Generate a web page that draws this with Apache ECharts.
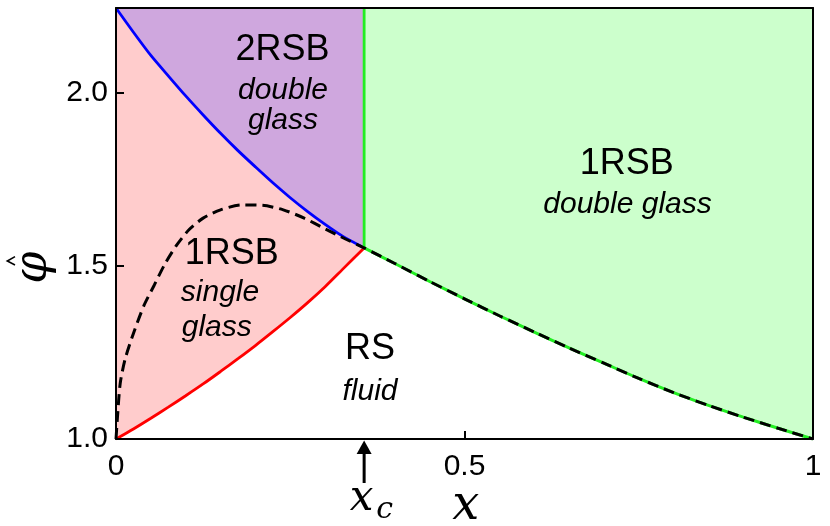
<!DOCTYPE html>
<html>
<head>
<meta charset="utf-8">
<script src="https://cdn.jsdelivr.net/npm/echarts@6/dist/echarts.min.js"></script>
<style>html,body{margin:0;padding:0;background:#fff}#c{width:830px;height:526px}</style>
</head>
<body>
<div id="c"></div>
<script>
// ---- axis ranges & ticks ----
const xMin = 0, xMax = 1, xInterval = 0.5;
const yMin = 1.0, yMax = 2.245, yInterval = 0.5;

// ---- special point (x_c, junction) ----
const xc = 0.356;
const yJunction = 1.552;

// ---- 2RSB / 1RSB-single boundary (blue) ----
const blueX = [0, 0.025, 0.05, 0.075, 0.10, 0.125, 0.15, 0.175, 0.20, 0.225, 0.25, 0.275, 0.30, 0.325, 0.356];
const blueY = [2.245, 2.175, 2.108, 2.049, 1.991, 1.936, 1.883, 1.833, 1.786, 1.740, 1.697, 1.657, 1.620, 1.586, 1.552];

// ---- RS / 1RSB-single boundary (red) ----
const redX = [0, 0.025, 0.05, 0.075, 0.10, 0.125, 0.15, 0.175, 0.20, 0.225, 0.25, 0.275, 0.30, 0.325, 0.356];
const redY = [1.0, 1.029, 1.06, 1.092, 1.125, 1.159, 1.195, 1.232, 1.27, 1.31, 1.351, 1.394, 1.44, 1.49, 1.552];

// ---- dashed curve, left branch ----
const dashLX = [0, 0.002, 0.006, 0.013, 0.025, 0.04, 0.055, 0.07, 0.087, 0.105, 0.125, 0.15, 0.18, 0.21, 0.24, 0.27, 0.30, 0.33, 0.356];
const dashLY = [1.0, 1.06, 1.16, 1.23, 1.305, 1.385, 1.445, 1.505, 1.56, 1.605, 1.638, 1.662, 1.676, 1.675, 1.662, 1.638, 1.607, 1.577, 1.552];

// ---- dashed curve, right branch (RS / 1RSB double glass boundary) ----
const dashRX = [0.356, 0.40, 0.45, 0.50, 0.55, 0.60, 0.65, 0.70, 0.75, 0.80, 0.85, 0.90, 0.95, 1.0];
const dashRY = [1.552, 1.507, 1.455, 1.405, 1.356, 1.309, 1.263, 1.219, 1.175, 1.134, 1.097, 1.063, 1.031, 1.0];

// ---- region labels (anchor in data coords) ----
const labelTexts = ['2RSB', 'double', 'glass', '1RSB', 'double glass', '1RSB', 'single', 'glass', 'RS', 'fluid'];
const labelKinds = ['b', 'i', 'i', 'b', 'i', 'b', 'i', 'i', 'b', 'i'];
const labelX = [0.2389, 0.2396, 0.2396, 0.7327, 0.7339, 0.1660, 0.1492, 0.1445, 0.3644, 0.3644];
const labelY = [2.1223, 2.0052, 1.9185, 1.7945, 1.6777, 1.5344, 1.4225, 1.3223, 1.2598, 1.1382];

const zip = (a, b) => a.map((v, i) => [v, b[i]]);

const SANS = '"Liberation Sans", Arial, Helvetica, sans-serif';
const SERIF = '"DejaVu Serif", serif';

const chart = echarts.init(document.getElementById('c'), null, {renderer: 'canvas'});

const annData = labelTexts.map((t, i) => ({
  value: [labelX[i], labelY[i]],
  label: {
    show: true, formatter: t, color: '#000', fontFamily: SANS,
    fontSize: labelKinds[i] === 'b' ? 36 : 30,
    fontStyle: labelKinds[i] === 'b' ? 'normal' : 'italic',
    textBorderWidth: 0, position: 'inside', align: 'center', verticalAlign: 'middle'
  }
}));

const option = {
  animation: false,
  backgroundColor: '#fff',
  grid: {left: 116, right: 17, top: 8, bottom: 87, containLabel: false},
  xAxis: [{
    type: 'value', min: xMin, max: xMax, interval: xInterval, z: 10,
    axisLine: {show: true, onZero: false, lineStyle: {color: '#000', width: 2}},
    axisTick: {show: true, inside: true, length: 8, lineStyle: {color: '#000', width: 2}},
    axisLabel: {show: true, margin: 13, color: '#000', fontSize: 30, fontFamily: SANS},
    splitLine: {show: false}
  }, {
    type: 'value', position: 'top', min: xMin, max: xMax, z: 10,
    axisLine: {show: true, onZero: false, lineStyle: {color: '#000', width: 2}},
    axisTick: {show: false}, axisLabel: {show: false}, splitLine: {show: false}
  }],
  yAxis: [{
    type: 'value', min: yMin, max: yMax, interval: yInterval, z: 10,
    axisLine: {show: true, onZero: false, lineStyle: {color: '#000', width: 2}},
    axisTick: {show: true, inside: true, length: 8, lineStyle: {color: '#000', width: 2}},
    axisLabel: {show: true, margin: 8, color: '#000', fontSize: 30, fontFamily: SANS,
      showMaxLabel: false,
      formatter: v => (Math.abs(v / yInterval - Math.round(v / yInterval)) < 1e-6 ? v.toFixed(1) : '')},
    splitLine: {show: false}
  }, {
    type: 'value', position: 'right', min: yMin, max: yMax, z: 10,
    axisLine: {show: true, onZero: false, lineStyle: {color: '#000', width: 2}},
    axisTick: {show: false}, axisLabel: {show: false}, splitLine: {show: false}
  }],
  series: [
    {
      name: 'red', type: 'line', data: zip(redX, redY), showSymbol: false, smooth: 0.25,
      lineStyle: {color: '#ff0000', width: 2.8},
      areaStyle: {color: '#ffcccc', opacity: 1, origin: 'end'}
    },
    {
      name: 'blue', type: 'line', data: zip(blueX, blueY), showSymbol: false, smooth: 0.25,
      lineStyle: {color: '#0000ff', width: 2.8},
      areaStyle: {color: '#cfa7de', opacity: 1, origin: 'end'}
    },
    {
      name: 'green area', type: 'line', data: zip(dashRX, dashRY), showSymbol: false, smooth: 0.25,
      lineStyle: {color: '#22ee22', width: 3},
      areaStyle: {color: '#ccffcc', opacity: 1, origin: 'end'}
    },
    {
      name: 'green vertical', type: 'line', data: [[xc, yJunction], [xc, yMax]], showSymbol: false,
      lineStyle: {color: '#22ee22', width: 2.8}
    },
    {
      name: 'dashed', type: 'line', showSymbol: false, smooth: 0.25,
      data: zip(dashLX, dashLY).concat(zip(dashRX, dashRY).slice(1)),
      lineStyle: {color: '#000', width: 3, type: [11, 6]}
    },
    {
      name: 'labels', type: 'scatter', symbolSize: 0, data: annData, z: 5,
      itemStyle: {color: '#000', opacity: 1},
      label: {show: true, position: 'inside', color: '#000', fontFamily: SANS,
        align: 'center', verticalAlign: 'middle'}
    }
  ]
};
chart.setOption(option);

// annotations tied to axes: x_c arrow and axis names
const p = chart.convertToPixel({xAxisIndex: 0, yAxisIndex: 0}, [xc, yMin]);
const pName = chart.convertToPixel({xAxisIndex: 0, yAxisIndex: 0}, [0.502, 1.497]);
const axisY = p[1];
const phiX = 34, phiY = pName[1] + 0.7;
chart.setOption({
  graphic: [
    {type: 'polygon', shape: {points: [[p[0], axisY + 1.5], [p[0] - 7.5, axisY + 15], [p[0] + 7.5, axisY + 15]]},
      style: {fill: '#000'}, z: 20},
    {type: 'line', shape: {x1: p[0], y1: axisY + 14, x2: p[0], y2: axisY + 44},
      style: {stroke: '#000', lineWidth: 3}, z: 20},
    {type: 'text', x: p[0] - 2.5, y: axisY + 60, z: 20,
      style: {text: 'x', font: 'italic 42px ' + SERIF, fill: '#000', align: 'center', verticalAlign: 'middle'}},
    {type: 'text', x: p[0] + 20.5, y: axisY + 71, z: 20,
      style: {text: 'c', font: 'italic 30px ' + SERIF, fill: '#000', align: 'center', verticalAlign: 'middle'}},
    {type: 'text', x: pName[0], y: axisY + 68, z: 20,
      style: {text: 'x', font: 'italic 48px ' + SERIF, fill: '#000', align: 'center', verticalAlign: 'middle'}},
    {type: 'text', x: phiX, y: phiY, rotation: Math.PI / 2, z: 20,
      style: {text: 'φ', font: 'italic 46px ' + SERIF, fill: '#000', align: 'center', verticalAlign: 'middle'}},
    {type: 'polyline', shape: {points: [[15, phiY - 11], [7.3, phiY - 6.7], [15, phiY - 2.7]]},
      style: {stroke: '#000', lineWidth: 1.6, fill: null}, z: 20}
  ]
});
</script>
</body>
</html>
